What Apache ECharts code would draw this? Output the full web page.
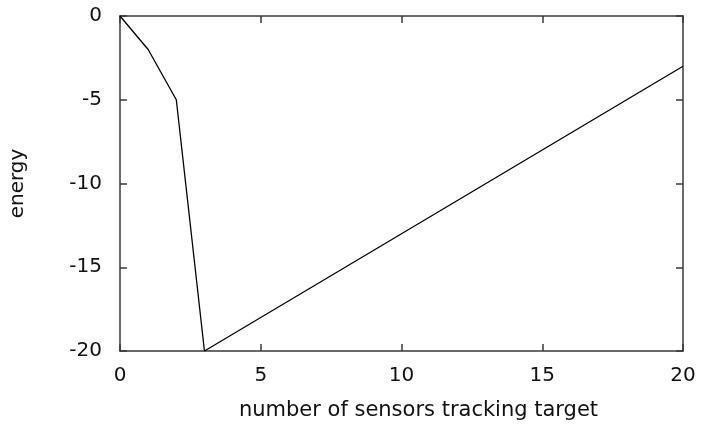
<!DOCTYPE html>
<html>
<head>
<meta charset="utf-8">
<script src="https://cdn.jsdelivr.net/npm/echarts@6/dist/echarts.min.js"></script>
<style>
  html, body { margin: 0; padding: 0; background: #fff; }
  #chart { width: 704px; height: 426px; }
</style>
</head>
<body>
<div id="chart"></div>
<script>
// Energy versus number of sensors tracking a target
const sensors = [0, 1, 2, 3, 20];
const energy = [0, -2, -5, -20, -3];
const xTicks = [0, 5, 10, 15, 20];
const yTicks = [-20, -15, -10, -5, 0];

const FONT = 'DejaVu Sans';
const AXIS_COLOR = '#3a3a3a';

const points = sensors.map((x, i) => [x, energy[i]]);

function xAxisDef(show, pos) {
  return {
    type: 'value',
    position: pos,
    min: xTicks[0],
    max: xTicks[xTicks.length - 1],
    interval: 5,
    axisLine: { show: true, onZero: false, lineStyle: { color: AXIS_COLOR, width: 1.5 } },
    axisTick: { show: true, inside: true, length: 7, lineStyle: { color: AXIS_COLOR, width: 1.5 } },
    axisLabel: {
      show: show, margin: 15, color: '#111',
      fontFamily: FONT, fontSize: 20
    },
    splitLine: { show: false }
  };
}

function yAxisDef(show, pos) {
  return {
    type: 'value',
    position: pos,
    min: yTicks[0],
    max: yTicks[yTicks.length - 1],
    interval: 5,
    axisLine: { show: true, onZero: false, lineStyle: { color: AXIS_COLOR, width: 1.5 } },
    axisTick: { show: true, inside: true, length: 7, lineStyle: { color: AXIS_COLOR, width: 1.5 } },
    axisLabel: {
      show: show, margin: 18, color: '#111',
      fontFamily: FONT, fontSize: 20
    },
    splitLine: { show: false }
  };
}

const xMain = xAxisDef(true, 'bottom');
xMain.name = 'number of sensors tracking target';
xMain.nameLocation = 'middle';
xMain.nameGap = 49;
xMain.nameTextStyle = { color: '#111', fontFamily: FONT, fontSize: 21, padding: [0, 0, 0, 34] };

const yMain = yAxisDef(true, 'left');
yMain.name = 'energy';
yMain.nameLocation = 'middle';
yMain.nameRotate = 90;
yMain.nameGap = 92;
yMain.nameTextStyle = { color: '#111', fontFamily: FONT, fontSize: 20 };

const chart = echarts.init(document.getElementById('chart'), null, { renderer: 'canvas' });
chart.setOption({
  animation: false,
  backgroundColor: '#fff',
  grid: { left: 120, right: 21, top: 16, bottom: 74, containLabel: false },
  xAxis: [xMain, xAxisDef(false, 'top')],
  yAxis: [yMain, yAxisDef(false, 'right')],
  series: [{
    type: 'line',
    xAxisIndex: 0,
    yAxisIndex: 0,
    data: points,
    showSymbol: false,
    symbol: 'none',
    lineStyle: { color: '#000', width: 1.3 }
  }]
});
</script>
</body>
</html>
